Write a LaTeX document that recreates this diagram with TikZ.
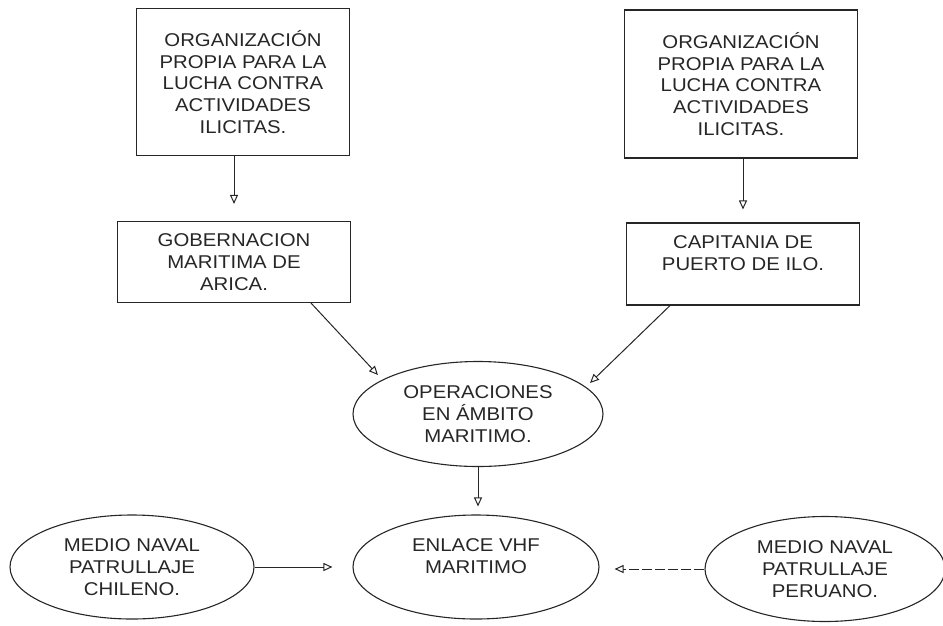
\documentclass[tikz,border=0pt]{standalone}
\usepackage{fontspec}
\setmainfont{Liberation Sans}[FakeStretch=1.1]
\usetikzlibrary{arrows.meta,shapes.geometric,calc}
\begin{document}
\begin{tikzpicture}[x=1pt,y=-1pt,
  txt/.style={font=\fontsize{18.5}{21.7}\selectfont, align=center, text=black!85},
  box/.style={txt, draw=black!85, line width=1.1pt, inner sep=0pt},
  oval/.style={txt, draw=black!85, ellipse, line width=1.1pt, inner sep=0pt,
    minimum width=246pt, minimum height=104pt},
  arr/.style={draw=black!85, line width=1pt, -{Triangle[open,length=9pt,width=8pt]}}]
\useasboundingbox (0,0) rectangle (943,625);
% boxes
\node[box, minimum width=213pt, minimum height=147pt] (org1) at (243,82)
  {ORGANIZACIÓN\\PROPIA PARA LA\\LUCHA CONTRA\\ACTIVIDADES\\ILICITAS.};
\node[box, minimum width=233pt, minimum height=148pt] (org2) at (741,84)
  {ORGANIZACIÓN\\PROPIA PARA LA\\LUCHA CONTRA\\ACTIVIDADES\\ILICITAS.};
\node[box, minimum width=233pt, minimum height=81pt] (gob) at (234,262)
  {GOBERNACION\\MARITIMA DE\\ARICA.};
\node[box, minimum width=233pt, minimum height=82pt] (cap) at (743,264)
  {CAPITANIA DE\\PUERTO DE ILO.\\ };
% ellipses
\node[oval, minimum width=250pt, minimum height=105pt] (op) at (478,414)
  {OPERACIONES\\EN ÁMBITO\\MARITIMO.};
\node[oval] (enl) at (476,567) {ENLACE VHF\\MARITIMO\\ };
\node[oval, minimum width=244pt] (chi) at (132,567) {MEDIO NAVAL\\PATRULLAJE\\CHILENO.};
\node[oval, minimum width=240pt, minimum height=105pt] (per) at (825,569) {MEDIO NAVAL\\PATRULLAJE\\PERUANO.};
% connectors
\draw[arr, shorten >=17pt] (org1.south -| gob.north) -- (gob.north);
\draw[arr, shorten >=13pt] (org2.south -| cap.north) -- (cap.north);
\draw[arr] ([xshift=77pt]gob.south) -- ($(op)+(-100,-39)$);
\draw[arr] ([xshift=-73pt]cap.south) -- ($(op)+(112,-31)$);
\draw[arr, shorten >=8pt] (op.south) -- (op.south |- enl.north);
\draw[arr, shorten >=20pt] (chi.east) -- (enl.west);
\draw[arr, shorten >=15pt, dash pattern={on 10pt off 3pt}] (per.west) -- (per.west -| enl.east);
\end{tikzpicture}
\end{document}
